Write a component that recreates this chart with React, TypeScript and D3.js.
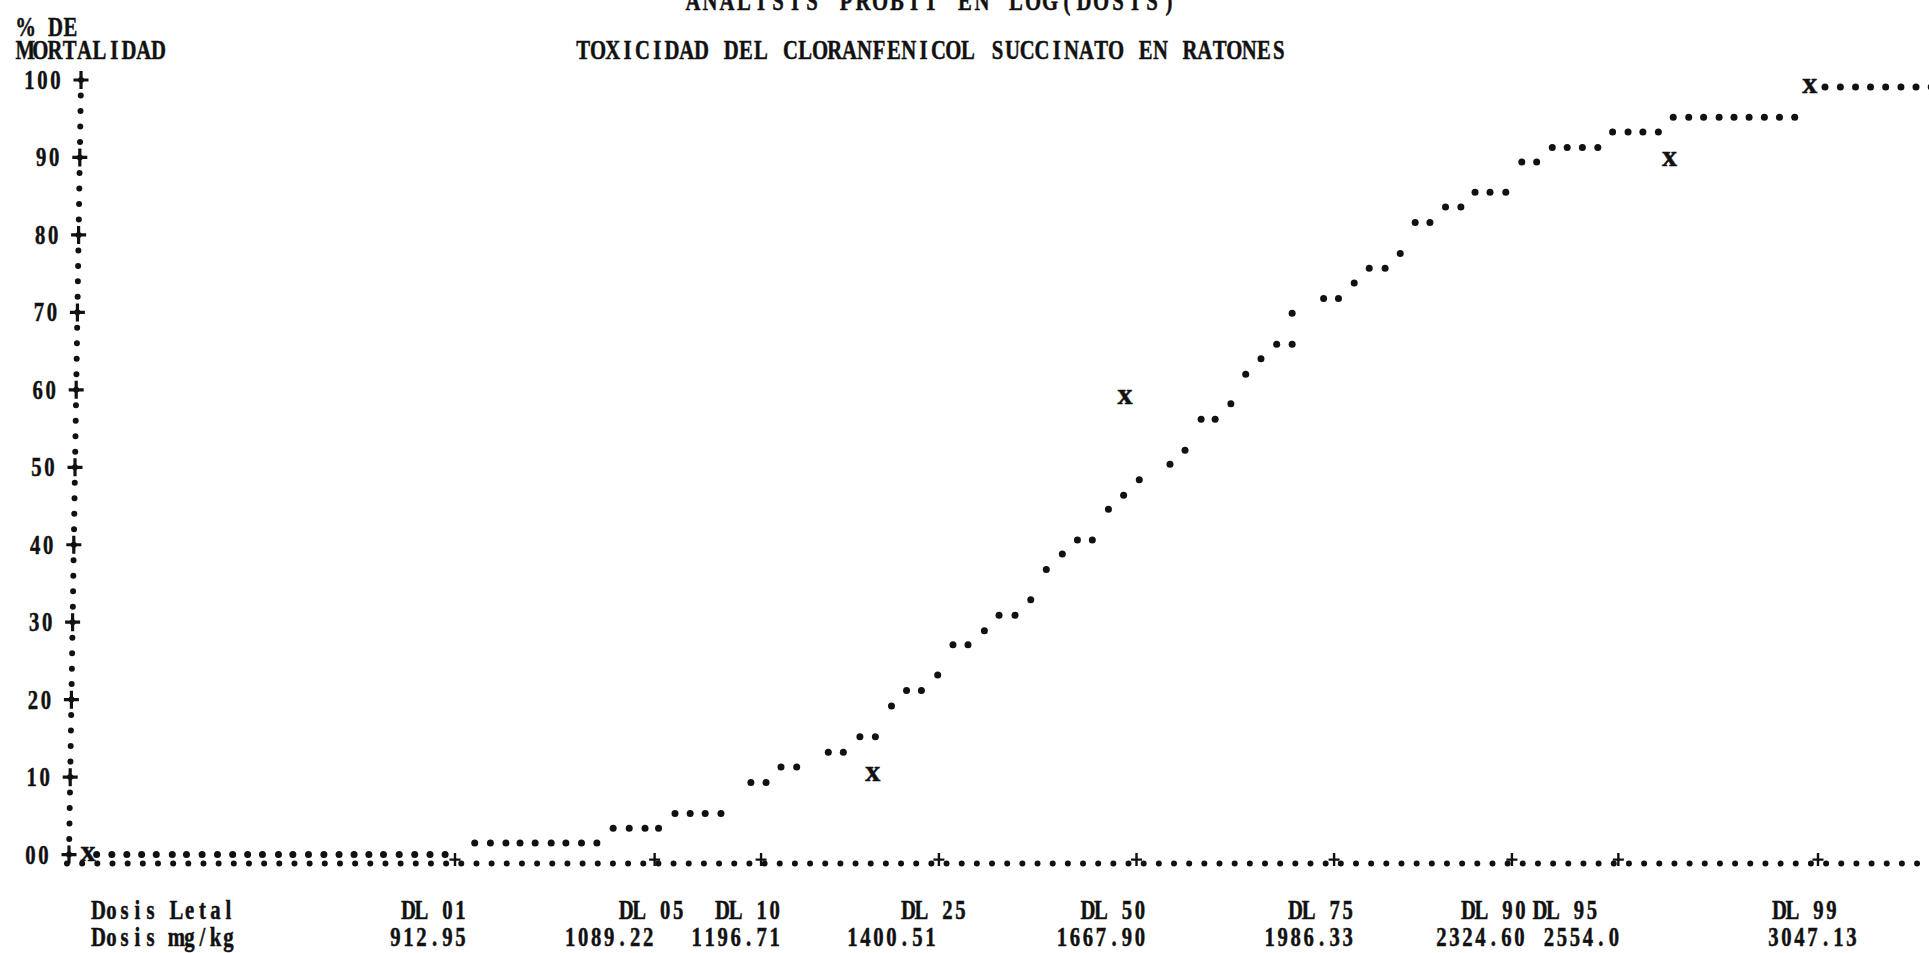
import React from 'react';
import * as d3 from 'd3';

const W = 1929;
const H = 953;

// Lethal-dose reference marks
const dlLabels = ['DL 01', 'DL 05', 'DL 10', 'DL 25', 'DL 50', 'DL 75', 'DL 90', 'DL 95', 'DL 99'];
const dlDoses = [912.95, 1089.22, 1196.71, 1400.51, 1667.9, 1986.33, 2324.6, 2554.0, 3047.13];
const dlDoseText = ['912.95', '1089.22', '1196.71', '1400.51', '1667.90', '1986.33', '2324.60', '2554.0', '3047.13'];

// Y axis ticks
const yTicks = [100, 90, 80, 70, 60, 50, 40, 30, 20, 10, 0];
const yTickText = ['100', '90', '80', '70', '60', '50', '40', '30', '20', '10', '00'];

// Printed probit curve (dose mg/kg, % mortality)
const curveDose = [
  665, 674, 683, 692, 701, 711, 720, 730, 740, 750, 760, 770, 781, 791, 802, 813, 824, 835, 846, 857, 869, 881, 893, 905,
  929, 942, 955, 967, 980, 994, 1007, 1021, 1035,
  1050, 1065, 1080, 1093,
  1109, 1124, 1139, 1155,
  1186, 1202,
  1218, 1235,
  1270, 1287,
  1306, 1324,
  1343,
  1361, 1379,
  1399,
  1418, 1437,
  1458,
  1477, 1498,
  1519,
  1540,
  1562,
  1583, 1604,
  1627,
  1649,
  1672,
  1718,
  1741,
  1766, 1788,
  1813,
  1837,
  1862,
  1888, 1914,
  1914,
  1968, 1994,
  2022,
  2049, 2078,
  2106,
  2134, 2162,
  2192, 2222,
  2250, 2280, 2312,
  2345, 2376,
  2409, 2441, 2474, 2508,
  2541, 2576, 2610, 2646,
  2681, 2718, 2754, 2792, 2829, 2867, 2906, 2945, 2985,
  3066, 3108, 3150, 3192, 3235, 3279, 3323, 3368,
];
const curvePct = [
  0, 0, 0, 0, 0, 0, 0, 0, 0, 0, 0, 0, 0, 0, 0, 0, 0, 0, 0, 0, 0, 0, 0, 0,
  1.5, 1.5, 1.5, 1.5, 1.5, 1.5, 1.5, 1.5, 1.5,
  3.4, 3.4, 3.4, 3.4,
  5.3, 5.3, 5.3, 5.3,
  9.3, 9.3,
  11.3, 11.3,
  13.2, 13.2,
  15.2, 15.2,
  19.2,
  21.2, 21.2,
  23.2,
  27.1, 27.1,
  28.9,
  30.9, 30.9,
  32.9,
  36.8,
  38.8,
  40.6, 40.6,
  44.6,
  46.4,
  48.4,
  50.4,
  52.2,
  56.2, 56.2,
  58.2,
  62.0,
  64.0,
  65.9, 65.9,
  69.9,
  71.8, 71.8,
  73.8,
  75.7, 75.7,
  77.6,
  81.6, 81.6,
  83.6, 83.6,
  85.5, 85.5, 85.5,
  89.4, 89.4,
  91.3, 91.3, 91.3, 91.3,
  93.3, 93.3, 93.3, 93.3,
  95.2, 95.2, 95.2, 95.2, 95.2, 95.2, 95.2, 95.2, 95.2,
  99.1, 99.1, 99.1, 99.1, 99.1, 99.1, 99.1, 99.1,
];

// Observed points (x marks)
const obsDose = [660, 1321, 1651, 2672, 3025];
const obsPct = [0, 10.3, 58.9, 89.7, 99.1];

// layout: horizontal nudges of the printed labels relative to their mark (px)
const dlLabelDx = [-8, 10, 0, 8, -10, 0, -5, -40, 0];
const dlNumDx = [-8, -20, 0, -22, -10, 0, -6, -18, 20];

const FONT = "'Liberation Serif', 'DejaVu Serif', serif";
const INK = '#111';

type MonoProps = {
  text: string;
  x: number;
  y: number;
  anchor?: 'start' | 'middle' | 'end';
  cw?: number;
  size?: number;
  sx?: number;
  weight?: number;
  bold?: number;
};

function Mono({ text, x, y, anchor = 'start', cw = 14.8, size = 28, sx = 0.74, weight = 700, bold = 0.5 }: MonoProps) {
  const n = text.length;
  const left = anchor === 'start' ? x : anchor === 'end' ? x - n * cw : x - (n * cw) / 2;
  return (
    <text
      transform={`translate(${left},${y}) scale(${sx},1)`}
      fontFamily={FONT}
      fontSize={size}
      fontWeight={weight}
      textAnchor="middle"
      fill={INK}
      stroke={INK}
      strokeWidth={bold}
    >
      {text.split('').map((c, i) =>
        c === ' ' ? null : (
          <tspan key={i} x={((i + 0.5) * cw) / sx} y={0}>
            {c}
          </tspan>
        )
      )}
    </text>
  );
}

function Cross({ cx, cy, w, h, sw }: { cx: number; cy: number; w: number; h: number; sw: number }) {
  return (
    <path
      d={`M${cx - w / 2},${cy}H${cx + w / 2}M${cx},${cy - h / 2}V${cy + h / 2}`}
      stroke={INK}
      strokeWidth={sw}
      fill="none"
    />
  );
}

export default function App() {
  const x = d3.scaleLog().domain([912.95, 3047.13]).range([455, 1818]);
  const y = d3.scaleLinear().domain([0, 100]).range([854.6, 80]);
  const axisX = d3.scaleLinear().domain([0, 100]).range([69, 81]);

  const colW = x(929.2 * 1.0135) - x(929.2);
  const rowH = y(0) - y(2);
  const axisY = y(0) + 9;

  return (
    <svg
      width={W}
      height={H}
      viewBox={`0 0 ${W} ${H}`}
      style={{ position: 'absolute', left: 0, top: 0, display: 'block', background: '#fff' }}
    >
      <rect x={0} y={0} width={W} height={H} fill="#fff" />

      {/* headings */}
      <Mono text="ANALISIS PROBIT EN LOG(DOSIS)" x={931} y={10} anchor="middle" cw={17} />
      <Mono text="TOXICIDAD DEL CLORANFENICOL SUCCINATO EN RATONES" x={931} y={59} anchor="middle" />
      <Mono text="% DE" x={18} y={36} cw={15} />
      <Mono text="MORTALIDAD" x={18} y={59} />

      {/* y axis dotted line */}
      <line
        x1={axisX(100)}
        y1={y(100)}
        x2={axisX(0)}
        y2={y(0)}
        stroke={INK}
        strokeWidth={6}
        strokeLinecap="round"
        strokeDasharray={`0 ${rowH}`}
      />
      {yTicks.map((t, i) => (
        <g key={t}>
          <Cross cx={axisX(t)} cy={y(t)} w={15} h={18} sw={3.2} />
          <Mono text={yTickText[i]} x={axisX(t) - 19} y={y(t) + 9} anchor="end" cw={13} />
        </g>
      ))}

      {/* x axis dotted row */}
      <line
        x1={67}
        y1={axisY}
        x2={W + 10}
        y2={axisY}
        stroke={INK}
        strokeWidth={6}
        strokeLinecap="round"
        strokeDasharray={`0 ${colW}`}
      />
      {dlDoses.map((d, i) => (
        <Cross key={'m' + i} cx={x(d)} cy={axisY - 4} w={11} h={13} sw={2.4} />
      ))}

      {/* printed curve */}
      {curveDose.map((d, i) => (
        <circle key={'c' + i} cx={x(d)} cy={y(curvePct[i])} r={3.5} fill={INK} />
      ))}

      {/* observed points */}
      {obsDose.map((d, i) => (
        <Mono key={'o' + i} text="x" x={x(d)} y={y(obsPct[i]) + 6} anchor="middle" size={30} sx={1} />
      ))}

      {/* bottom labels */}
      <Mono text="Dosis Letal" x={92} y={919} cw={13} />
      <Mono text="Dosis mg/kg" x={92} y={946} cw={13} />
      {dlDoses.map((d, i) => (
        <g key={'l' + i}>
          <Mono text={dlLabels[i]} x={x(d) + 20 + dlLabelDx[i]} y={919} anchor="end" cw={13} />
          <Mono text={dlDoseText[i]} x={x(d) + 20 + dlNumDx[i]} y={946} anchor="end" cw={13} />
        </g>
      ))}
    </svg>
  );
}
